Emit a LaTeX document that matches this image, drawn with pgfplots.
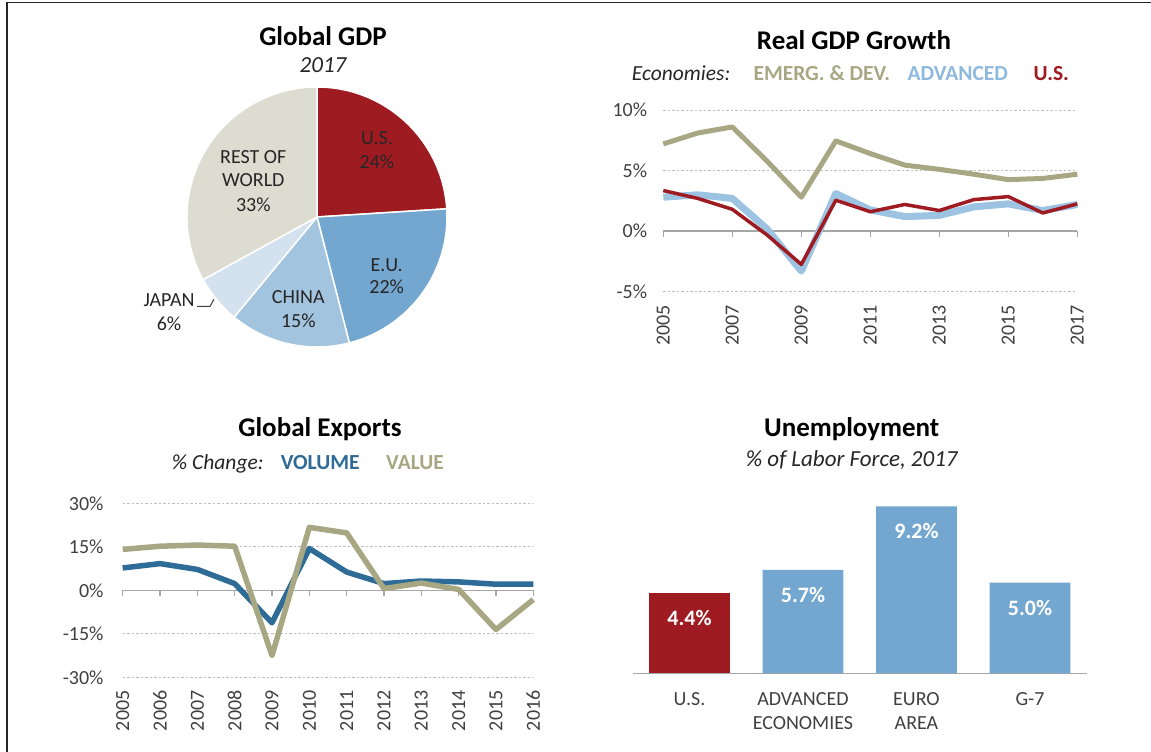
\documentclass[border=0pt]{standalone}
\usepackage{pgfplots}
\pgfplotsset{compat=1.18}
\usepackage{fontspec}
\setmainfont{Carlito}
\definecolor{cRed}{HTML}{9E1B22}
\definecolor{cEU}{HTML}{74A7CF}
\definecolor{cCN}{HTML}{A3C4DF}
\definecolor{cJP}{HTML}{D3E2EE}
\definecolor{cRW}{HTML}{DDDCD0}
\definecolor{cKhaki}{HTML}{A8A784}
\definecolor{cAdv}{HTML}{9DC3E3}
\definecolor{cAdvT}{HTML}{8DB9DE}
\definecolor{cVol}{HTML}{2E6B96}
\definecolor{cTick}{HTML}{404040}
\definecolor{cGrid}{HTML}{BFBFBF}
\definecolor{cZero}{HTML}{A6A6A6}
\pgfplotsset{
  /pgf/number format/assume math mode=true,
  linechart/.style={scale only axis, anchor=south west, clip=false,
    axis line style={draw=none}, major tick length=0pt,
    ymajorgrids, grid style={cGrid, dash pattern=on 2.5pt off 2pt, line width=0.9pt},
    tick label style={font=\fontsize{20}{24}\selectfont, text=cTick},
    xticklabel style={yshift=-13pt, rotate=90, anchor=east, inner sep=0pt},
  },
}
\begin{document}
\begin{tikzpicture}[x=1pt,y=1pt]
\path[use as bounding box] (0,0) rectangle (1151,752);
\draw[line width=1.8pt, black!85] (7,0) -- (7,749.5) -- (1151,749.5);

% ---------------- Global GDP pie ----------------
\node[anchor=base, font=\fontsize{27}{32}\selectfont\bfseries] at (323,706) {Global GDP};
\node[anchor=base, font=\fontsize{23}{28}\selectfont\itshape, text=black!85] at (323,679.5) {2017};
\foreach \start/\val/\col in {90/24/cRed, 3.6/22/cEU, -75.6/15/cCN, -129.6/6/cJP, -151.2/33/cRW} {
  \filldraw[fill=\col, draw=white, line width=1.5pt, line join=round]
    (317,535) -- ([shift={(\start:130)}]317,535) arc[start angle=\start, delta angle=-3.6*\val, radius=130] -- cycle;
}
\begin{scope}[every node/.style={anchor=base, font=\fontsize{20}{24}\selectfont, text=black!85, inner sep=0pt}]
\node at (377,607) {U.S.};
\node at (377,583.5) {24\%};
\node at (253.3,588.7) {REST OF};
\node at (253.3,565.3) {WORLD};
\node at (253.3,540.3) {33\%};
\node at (386.7,480.3) {E.U.};
\node at (386.7,458.7) {22\%};
\node at (298.3,448.7) {CHINA};
\node at (298.3,424.7) {15\%};
\node at (169,445.3) {JAPAN};
\node at (169,421.3) {6\%};
\end{scope}
\draw[black!75, line width=1pt] (197,445.6) -- (210,445.6) -- (214,452.7);

% ---------------- Real GDP Growth ----------------
\node[anchor=base, font=\fontsize{27}{32}\selectfont\bfseries] at (854,702.7) {Real GDP Growth};
\node[anchor=base west, inner sep=0pt, font=\fontsize{21.5}{26}\selectfont\itshape, text=black!85] at (631.7,671) {Economies:};
\node[anchor=base west, inner sep=0pt, font=\fontsize{21.5}{26}\selectfont\bfseries, text=cKhaki] at (753.3,671) {EMERG. \& DEV.};
\node[anchor=base west, inner sep=0pt, font=\fontsize{21.5}{26}\selectfont\bfseries, text=cAdvT] at (907.3,671) {ADVANCED};
\node[anchor=base west, inner sep=0pt, font=\fontsize{21.5}{26}\selectfont\bfseries, text=cRed] at (1033.3,671) {U.S.};
\begin{axis}[linechart, at={(663.3pt,460.3pt)}, width=414pt, height=181.7pt,
  xmin=2005, xmax=2017, ymin=-5, ymax=10,
  xtick={2005,2007,2009,2011,2013,2015,2017},
  xticklabels={2005,2007,2009,2011,2013,2015,2017},
  ytick={-5,0,5,10}, yticklabels={-5\%,0\%,5\%,10\%},
  yticklabel style={anchor=east, inner sep=0pt, xshift=-16pt}]
\addplot[cZero, line width=1.3pt] coordinates {(2005,0) (2017,0)};
\pgfplotsinvokeforeach{2005,2007,2009,2011,2013,2015,2017}{
  \draw[cZero, line width=1.3pt] (axis cs:#1,0) -- ([yshift=-6pt]axis cs:#1,0);
}
\addplot[cKhaki, line width=5pt, line join=round] coordinates {
(2005,7.2) (2006,8.1) (2007,8.6) (2008,5.8) (2009,2.8) (2010,7.45) (2011,6.4)
(2012,5.45) (2013,5.1) (2014,4.7) (2015,4.25) (2016,4.35) (2017,4.7)};
\addplot[cAdv, line width=7pt, line join=round] coordinates {
(2005,2.8) (2006,3.0) (2007,2.7) (2008,0.2) (2009,-3.3) (2010,3.1) (2011,1.75)
(2012,1.2) (2013,1.3) (2014,2.0) (2015,2.25) (2016,1.7) (2017,2.2)};
\addplot[cRed, line width=3.5pt, line join=round] coordinates {
(2005,3.35) (2006,2.7) (2007,1.8) (2008,-0.3) (2009,-2.75) (2010,2.55) (2011,1.6)
(2012,2.2) (2013,1.7) (2014,2.6) (2015,2.85) (2016,1.5) (2017,2.25)};
\end{axis}

% ---------------- Global Exports ----------------
\node[anchor=base, font=\fontsize{27}{32}\selectfont\bfseries] at (320,315.3) {Global Exports};
\node[anchor=base west, inner sep=0pt, font=\fontsize{21.5}{26}\selectfont\itshape, text=black!85] at (171.7,282) {\% Change:};
\node[anchor=base west, inner sep=0pt, font=\fontsize{21.5}{26}\selectfont\bfseries, text=cVol] at (280.7,282) {VOLUME};
\node[anchor=base west, inner sep=0pt, font=\fontsize{21.5}{26}\selectfont\bfseries, text=cKhaki] at (386,282) {VALUE};
\begin{axis}[linechart, at={(122.7pt,74.7pt)}, width=410.6pt, height=174pt,
  xmin=2005, xmax=2016, ymin=-30, ymax=30,
  xtick={2005,2006,2007,2008,2009,2010,2011,2012,2013,2014,2015,2016},
  xticklabels={2005,2006,2007,2008,2009,2010,2011,2012,2013,2014,2015,2016},
  ytick={-30,-15,0,15,30}, yticklabels={-30\%,-15\%,0\%,15\%,30\%},
  yticklabel style={anchor=east, inner sep=0pt, xshift=-19pt}]
\addplot[cZero, line width=1.3pt] coordinates {(2005,0) (2016,0)};
\pgfplotsinvokeforeach{2005,2006,2007,2008,2009,2010,2011,2012,2013,2014,2015,2016}{
  \draw[cZero, line width=1.3pt] (axis cs:#1,0) -- ([yshift=-6pt]axis cs:#1,0);
}
\addplot[cVol, line width=5.5pt, line join=round] coordinates {
(2005,7.7) (2006,9.2) (2007,7.2) (2008,2.3) (2009,-11.2) (2010,14.4) (2011,6.3)
(2012,2.3) (2013,3.2) (2014,2.9) (2015,2.1) (2016,2.1)};
\addplot[cKhaki, line width=5.5pt, line join=round] coordinates {
(2005,14.1) (2006,15.2) (2007,15.6) (2008,15.2) (2009,-22.5) (2010,21.7) (2011,19.8)
(2012,0.6) (2013,2.5) (2014,0.3) (2015,-13.5) (2016,-3.2)};
\end{axis}

% ---------------- Unemployment ----------------
\node[anchor=base, font=\fontsize{27}{32}\selectfont\bfseries] at (851.7,315.3) {Unemployment};
\node[anchor=base, font=\fontsize{23}{28}\selectfont\itshape, text=black!85] at (851.7,285.3) {\% of Labor Force, 2017};
\begin{axis}[scale only axis, anchor=south west, at={(632.7pt,78.7pt)}, width=454pt, height=181.5pt,
  clip=false, xmin=-0.5, xmax=3.5, ymin=0, ymax=10,
  axis y line=none, axis x line*=bottom, x axis line style={cZero, line width=1.3pt},
  ybar, bar width=80.7pt, bar shift=0pt, major tick length=0pt,
  xtick={0,1,2,3}, xticklabels={U.S., {ADVANCED\\ECONOMIES}, {EURO\\AREA}, G-7},
  xticklabel style={align=center, anchor=north, inner sep=0pt, yshift=-18.8pt,
    font=\fontsize{20}{24.3}\selectfont, text=cTick},
  nodes near coords={\pgfmathprintnumber[fixed,fixed zerofill,precision=1]{\pgfplotspointmeta}\%},
  every node near coord/.append style={anchor=center, yshift=-25pt, text=white,
    font=\fontsize{22}{26}\selectfont\bfseries}]
\addplot[fill=cRed, draw=none] coordinates {(0,4.4)};
\addplot[fill=cEU, draw=none] coordinates {(1,5.7) (2,9.2) (3,5.0)};
\end{axis}
\end{tikzpicture}
\end{document}
